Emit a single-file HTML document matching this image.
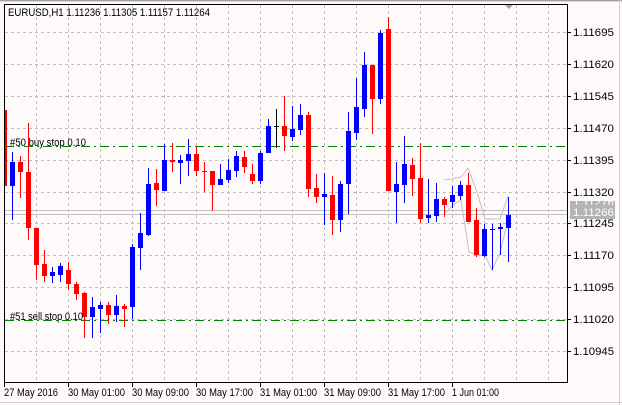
<!DOCTYPE html>
<html><head><meta charset="utf-8"><style>
html,body{margin:0;padding:0;background:#fffafa;}
svg{display:block;font-family:"Liberation Sans",sans-serif;}
</style></head><body>
<svg width="622" height="405" viewBox="0 0 622 405" xmlns="http://www.w3.org/2000/svg">
<rect x="0" y="0" width="622" height="405" fill="#fffafa"/>
<line x1="0" y1="0.5" x2="622" y2="0.5" stroke="#a0a0a0"/>
<line x1="0" y1="1.5" x2="622" y2="1.5" stroke="#d8d8d8"/>
<line x1="619.5" y1="0" x2="619.5" y2="405" stroke="#d0d0d0"/>
<line x1="0" y1="402.5" x2="622" y2="402.5" stroke="#d0d0d0"/>
<g stroke="#c0c0c0" stroke-dasharray="3,3" stroke-width="1">
<line x1="36.5" y1="5" x2="36.5" y2="382"/><line x1="68.5" y1="5" x2="68.5" y2="382"/>
<line x1="100.5" y1="5" x2="100.5" y2="382"/><line x1="132.5" y1="5" x2="132.5" y2="382"/>
<line x1="164.5" y1="5" x2="164.5" y2="382"/><line x1="196.5" y1="5" x2="196.5" y2="382"/>
<line x1="228.5" y1="5" x2="228.5" y2="382"/><line x1="260.5" y1="5" x2="260.5" y2="382"/>
<line x1="292.5" y1="5" x2="292.5" y2="382"/><line x1="324.5" y1="5" x2="324.5" y2="382"/>
<line x1="356.5" y1="5" x2="356.5" y2="382"/><line x1="388.5" y1="5" x2="388.5" y2="382"/>
<line x1="420.5" y1="5" x2="420.5" y2="382"/><line x1="452.5" y1="5" x2="452.5" y2="382"/>
<line x1="484.5" y1="5" x2="484.5" y2="382"/><line x1="516.5" y1="5" x2="516.5" y2="382"/>
<line x1="548.5" y1="5" x2="548.5" y2="382"/>
<line x1="5" y1="32.5" x2="567" y2="32.5"/><line x1="5" y1="64.5" x2="567" y2="64.5"/>
<line x1="5" y1="96.5" x2="567" y2="96.5"/><line x1="5" y1="128.5" x2="567" y2="128.5"/>
<line x1="5" y1="160.5" x2="567" y2="160.5"/><line x1="5" y1="192.5" x2="567" y2="192.5"/>
<line x1="5" y1="223.5" x2="567" y2="223.5"/><line x1="5" y1="255.5" x2="567" y2="255.5"/>
<line x1="5" y1="287.5" x2="567" y2="287.5"/><line x1="5" y1="319.5" x2="567" y2="319.5"/>
<line x1="5" y1="351.5" x2="567" y2="351.5"/>
</g>
<line x1="5" y1="210.5" x2="567" y2="210.5" stroke="#c0c0c0"/>
<line x1="5" y1="214.5" x2="567" y2="214.5" stroke="#c0c0c0"/>
<g stroke="#008000" stroke-width="1" stroke-dasharray="9,4,2,4">
<line x1="5" y1="146.5" x2="567" y2="146.5"/>
<line x1="5" y1="320.5" x2="567" y2="320.5"/>
</g>
<g fill="none" stroke="#c0c0c0" stroke-width="1">
<polyline points="444,180 452,179 461,177 468,168 477,192 485,219 500,219 508,196"/>
<polyline points="445,213 453,205 461,200 469,252 477,255 485,255 492,270 500,253 508,220"/>
</g>
<g stroke-width="1">
<rect x="4" y="110" width="3" height="76" fill="#ff0000"/>
<line x1="12.5" y1="152" x2="12.5" y2="220" stroke="#0000ff"/><rect x="10" y="162" width="5" height="24" fill="#0000ff"/>
<line x1="20.5" y1="156" x2="20.5" y2="198" stroke="#ff0000"/><rect x="18" y="162" width="5" height="10" fill="#ff0000"/>
<line x1="28.5" y1="123" x2="28.5" y2="240" stroke="#ff0000"/><rect x="26" y="172" width="5" height="56" fill="#ff0000"/>
<line x1="36.5" y1="228" x2="36.5" y2="280" stroke="#ff0000"/><rect x="34" y="228" width="5" height="37" fill="#ff0000"/>
<line x1="44.5" y1="250" x2="44.5" y2="282" stroke="#ff0000"/><rect x="42" y="264" width="5" height="12" fill="#ff0000"/>
<line x1="52.5" y1="267" x2="52.5" y2="283" stroke="#0000ff"/><rect x="50" y="272" width="5" height="4" fill="#0000ff"/>
<line x1="60.5" y1="263" x2="60.5" y2="282" stroke="#0000ff"/><rect x="58" y="266" width="5" height="9" fill="#0000ff"/>
<line x1="68.5" y1="262" x2="68.5" y2="290" stroke="#ff0000"/><rect x="66" y="270" width="5" height="14" fill="#ff0000"/>
<line x1="76.5" y1="282" x2="76.5" y2="300" stroke="#ff0000"/><rect x="74" y="284" width="5" height="10" fill="#ff0000"/>
<line x1="84.5" y1="292" x2="84.5" y2="338" stroke="#ff0000"/><rect x="82" y="293" width="5" height="24" fill="#ff0000"/>
<line x1="92.5" y1="297" x2="92.5" y2="338" stroke="#0000ff"/><rect x="90" y="307" width="5" height="10" fill="#0000ff"/>
<line x1="100.5" y1="302" x2="100.5" y2="333" stroke="#0000ff"/><rect x="98" y="305" width="5" height="4" fill="#0000ff"/>
<line x1="108.5" y1="302" x2="108.5" y2="324" stroke="#ff0000"/><rect x="106" y="305" width="5" height="10" fill="#ff0000"/>
<line x1="116.5" y1="295" x2="116.5" y2="322" stroke="#0000ff"/><rect x="114" y="306" width="5" height="9" fill="#0000ff"/>
<line x1="124.5" y1="304" x2="124.5" y2="327" stroke="#ff0000"/><rect x="122" y="306" width="5" height="3" fill="#ff0000"/>
<line x1="132.5" y1="244" x2="132.5" y2="319" stroke="#0000ff"/><rect x="130" y="247" width="5" height="60" fill="#0000ff"/>
<line x1="140.5" y1="213" x2="140.5" y2="270" stroke="#0000ff"/><rect x="138" y="233" width="5" height="15" fill="#0000ff"/>
<line x1="148.5" y1="168" x2="148.5" y2="236" stroke="#0000ff"/><rect x="146" y="184" width="5" height="51" fill="#0000ff"/>
<line x1="156.5" y1="169" x2="156.5" y2="206" stroke="#ff0000"/><rect x="154" y="183" width="5" height="7" fill="#ff0000"/>
<line x1="164.5" y1="144" x2="164.5" y2="190" stroke="#0000ff"/><rect x="162" y="160" width="5" height="31" fill="#0000ff"/>
<line x1="172.5" y1="143" x2="172.5" y2="172" stroke="#ff0000"/><rect x="170" y="160" width="5" height="2" fill="#ff0000"/>
<line x1="180.5" y1="155" x2="180.5" y2="184" stroke="#0000ff"/><rect x="178" y="160" width="5" height="3" fill="#0000ff"/>
<line x1="188.5" y1="139" x2="188.5" y2="176" stroke="#0000ff"/><rect x="186" y="154" width="5" height="7" fill="#0000ff"/>
<line x1="196.5" y1="147" x2="196.5" y2="176" stroke="#ff0000"/><rect x="194" y="154" width="5" height="17" fill="#ff0000"/>
<line x1="204.5" y1="162" x2="204.5" y2="192" stroke="#ff0000"/><rect x="202" y="171" width="5" height="1" fill="#ff0000"/>
<line x1="212.5" y1="171" x2="212.5" y2="211" stroke="#ff0000"/><rect x="210" y="171" width="5" height="14" fill="#ff0000"/>
<line x1="220.5" y1="164" x2="220.5" y2="185" stroke="#0000ff"/><rect x="218" y="179" width="5" height="6" fill="#0000ff"/>
<line x1="228.5" y1="159" x2="228.5" y2="183" stroke="#0000ff"/><rect x="226" y="170" width="5" height="10" fill="#0000ff"/>
<line x1="236.5" y1="151" x2="236.5" y2="177" stroke="#0000ff"/><rect x="234" y="156" width="5" height="15" fill="#0000ff"/>
<line x1="244.5" y1="151" x2="244.5" y2="173" stroke="#ff0000"/><rect x="242" y="157" width="5" height="10" fill="#ff0000"/>
<line x1="252.5" y1="164" x2="252.5" y2="184" stroke="#ff0000"/><rect x="250" y="174" width="5" height="7" fill="#ff0000"/>
<line x1="260.5" y1="151" x2="260.5" y2="184" stroke="#0000ff"/><rect x="258" y="153" width="5" height="28" fill="#0000ff"/>
<line x1="268.5" y1="119" x2="268.5" y2="153" stroke="#0000ff"/><rect x="266" y="126" width="5" height="27" fill="#0000ff"/>
<line x1="276.5" y1="109" x2="276.5" y2="148" stroke="#000000"/><rect x="274" y="126" width="5" height="1" fill="#000000"/>
<line x1="284.5" y1="96" x2="284.5" y2="151" stroke="#ff0000"/><rect x="282" y="126" width="5" height="10" fill="#ff0000"/>
<line x1="292.5" y1="106" x2="292.5" y2="141" stroke="#0000ff"/><rect x="290" y="129" width="5" height="8" fill="#0000ff"/>
<line x1="300.5" y1="104" x2="300.5" y2="135" stroke="#0000ff"/><rect x="298" y="115" width="5" height="15" fill="#0000ff"/>
<line x1="308.5" y1="112" x2="308.5" y2="197" stroke="#ff0000"/><rect x="306" y="115" width="5" height="74" fill="#ff0000"/>
<line x1="316.5" y1="174" x2="316.5" y2="203" stroke="#ff0000"/><rect x="314" y="188" width="5" height="9" fill="#ff0000"/>
<line x1="324.5" y1="173" x2="324.5" y2="225" stroke="#0000ff"/><rect x="322" y="194" width="5" height="3" fill="#0000ff"/>
<line x1="332.5" y1="176" x2="332.5" y2="235" stroke="#ff0000"/><rect x="330" y="195" width="5" height="25" fill="#ff0000"/>
<line x1="340.5" y1="181" x2="340.5" y2="232" stroke="#0000ff"/><rect x="338" y="184" width="5" height="36" fill="#0000ff"/>
<line x1="348.5" y1="112" x2="348.5" y2="214" stroke="#0000ff"/><rect x="346" y="131" width="5" height="53" fill="#0000ff"/>
<line x1="356.5" y1="78" x2="356.5" y2="140" stroke="#0000ff"/><rect x="354" y="107" width="5" height="26" fill="#0000ff"/>
<line x1="364.5" y1="52" x2="364.5" y2="117" stroke="#0000ff"/><rect x="362" y="65" width="5" height="44" fill="#0000ff"/>
<line x1="372.5" y1="65" x2="372.5" y2="134" stroke="#ff0000"/><rect x="370" y="65" width="5" height="34" fill="#ff0000"/>
<line x1="380.5" y1="30" x2="380.5" y2="104" stroke="#0000ff"/><rect x="378" y="33" width="5" height="66" fill="#0000ff"/>
<line x1="388.5" y1="17" x2="388.5" y2="191" stroke="#ff0000"/><rect x="386" y="29" width="5" height="162" fill="#ff0000"/>
<line x1="396.5" y1="162" x2="396.5" y2="223" stroke="#0000ff"/><rect x="394" y="184" width="5" height="8" fill="#0000ff"/>
<line x1="404.5" y1="136" x2="404.5" y2="203" stroke="#0000ff"/><rect x="402" y="164" width="5" height="21" fill="#0000ff"/>
<line x1="412.5" y1="158" x2="412.5" y2="196" stroke="#ff0000"/><rect x="410" y="165" width="5" height="14" fill="#ff0000"/>
<line x1="420.5" y1="143" x2="420.5" y2="223" stroke="#ff0000"/><rect x="418" y="178" width="5" height="41" fill="#ff0000"/>
<line x1="428.5" y1="179" x2="428.5" y2="223" stroke="#0000ff"/><rect x="426" y="215" width="5" height="3" fill="#0000ff"/>
<line x1="436.5" y1="183" x2="436.5" y2="222" stroke="#0000ff"/><rect x="434" y="199" width="5" height="17" fill="#0000ff"/>
<line x1="444.5" y1="197" x2="444.5" y2="217" stroke="#ff0000"/><rect x="442" y="199" width="5" height="6" fill="#ff0000"/>
<line x1="452.5" y1="186" x2="452.5" y2="208" stroke="#0000ff"/><rect x="450" y="195" width="5" height="7" fill="#0000ff"/>
<line x1="460.5" y1="181" x2="460.5" y2="200" stroke="#0000ff"/><rect x="458" y="185" width="5" height="11" fill="#0000ff"/>
<line x1="468.5" y1="173" x2="468.5" y2="222" stroke="#ff0000"/><rect x="466" y="185" width="5" height="37" fill="#ff0000"/>
<line x1="476.5" y1="208" x2="476.5" y2="257" stroke="#ff0000"/><rect x="474" y="220" width="5" height="35" fill="#ff0000"/>
<line x1="484.5" y1="224" x2="484.5" y2="257" stroke="#0000ff"/><rect x="482" y="229" width="5" height="27" fill="#0000ff"/>
<line x1="492.5" y1="224" x2="492.5" y2="270" stroke="#0000ff"/><rect x="490" y="229" width="5" height="1" fill="#0000ff"/>
<line x1="500.5" y1="223" x2="500.5" y2="255" stroke="#0000ff"/><rect x="498" y="227" width="5" height="2" fill="#0000ff"/>
<line x1="508.5" y1="197" x2="508.5" y2="262" stroke="#0000ff"/><rect x="506" y="215" width="5" height="13" fill="#0000ff"/>
</g>
<polygon points="505,5 513,5 509,9" fill="#a0a0a0"/>
<g font-size="11" fill="#000">
<text x="8" y="16" textLength="202" lengthAdjust="spacingAndGlyphs">EURUSD,H1  1.11236 1.11305 1.11157 1.11264</text>
<text x="10" y="146" textLength="76" lengthAdjust="spacingAndGlyphs">#50 buy stop 0.10</text>
<text x="10" y="320" textLength="73" lengthAdjust="spacingAndGlyphs">#51 sell stop 0.10</text>
</g>
<line x1="4.5" y1="4" x2="4.5" y2="383" stroke="#000"/>
<line x1="4" y1="4.5" x2="568" y2="4.5" stroke="#000"/>
<line x1="567.5" y1="4" x2="567.5" y2="383" stroke="#000"/>
<line x1="4" y1="382.5" x2="568" y2="382.5" stroke="#000"/>
<g stroke="#000">
<line x1="567" y1="32.5" x2="571" y2="32.5"/><line x1="567" y1="64.5" x2="571" y2="64.5"/>
<line x1="567" y1="96.5" x2="571" y2="96.5"/><line x1="567" y1="128.5" x2="571" y2="128.5"/>
<line x1="567" y1="160.5" x2="571" y2="160.5"/><line x1="567" y1="192.5" x2="571" y2="192.5"/>
<line x1="567" y1="223.5" x2="571" y2="223.5"/><line x1="567" y1="255.5" x2="571" y2="255.5"/>
<line x1="567" y1="287.5" x2="571" y2="287.5"/><line x1="567" y1="319.5" x2="571" y2="319.5"/>
<line x1="567" y1="351.5" x2="571" y2="351.5"/>
<line x1="4.5" y1="382" x2="4.5" y2="387"/><line x1="68.5" y1="382" x2="68.5" y2="387"/>
<line x1="132.5" y1="382" x2="132.5" y2="387"/><line x1="196.5" y1="382" x2="196.5" y2="387"/>
<line x1="260.5" y1="382" x2="260.5" y2="387"/><line x1="324.5" y1="382" x2="324.5" y2="387"/>
<line x1="388.5" y1="382" x2="388.5" y2="387"/><line x1="452.5" y1="382" x2="452.5" y2="387"/>
</g>
<g font-size="11" fill="#000" lengthAdjust="spacingAndGlyphs">
<text x="573" y="36" textLength="41" lengthAdjust="spacingAndGlyphs">1.11695</text><text x="573" y="68" textLength="41" lengthAdjust="spacingAndGlyphs">1.11620</text>
<text x="573" y="100" textLength="41" lengthAdjust="spacingAndGlyphs">1.11545</text><text x="573" y="132" textLength="41" lengthAdjust="spacingAndGlyphs">1.11470</text>
<text x="573" y="164" textLength="41" lengthAdjust="spacingAndGlyphs">1.11395</text><text x="573" y="196" textLength="41" lengthAdjust="spacingAndGlyphs">1.11320</text>
<text x="573" y="227" textLength="41" lengthAdjust="spacingAndGlyphs">1.11245</text><text x="573" y="259" textLength="41" lengthAdjust="spacingAndGlyphs">1.11170</text>
<text x="573" y="291" textLength="41" lengthAdjust="spacingAndGlyphs">1.11095</text><text x="573" y="323" textLength="41" lengthAdjust="spacingAndGlyphs">1.11020</text>
<text x="573" y="355" textLength="41" lengthAdjust="spacingAndGlyphs">1.10945</text>
<text x="4" y="396" textLength="54" lengthAdjust="spacingAndGlyphs">27 May 2016</text><text x="68" y="396" textLength="57" lengthAdjust="spacingAndGlyphs">30 May 01:00</text>
<text x="132" y="396" textLength="57" lengthAdjust="spacingAndGlyphs">30 May 09:00</text><text x="196" y="396" textLength="57" lengthAdjust="spacingAndGlyphs">30 May 17:00</text>
<text x="260" y="396" textLength="57" lengthAdjust="spacingAndGlyphs">31 May 01:00</text><text x="324" y="396" textLength="57" lengthAdjust="spacingAndGlyphs">31 May 09:00</text>
<text x="388" y="396" textLength="57" lengthAdjust="spacingAndGlyphs">31 May 17:00</text><text x="452" y="396" textLength="47" lengthAdjust="spacingAndGlyphs">1 Jun 01:00</text>
</g>
<rect x="570" y="201" width="45" height="18" fill="#b4b4b4"/>
<text x="573" y="206" font-size="11" fill="#fff" textLength="41" lengthAdjust="spacingAndGlyphs">1.11276</text>
<rect x="570" y="205" width="45" height="14" fill="#b4b4b4"/>
<text x="573" y="216" font-size="11" fill="#fff" textLength="41" lengthAdjust="spacingAndGlyphs">1.11266</text>
</svg>
</body></html>
